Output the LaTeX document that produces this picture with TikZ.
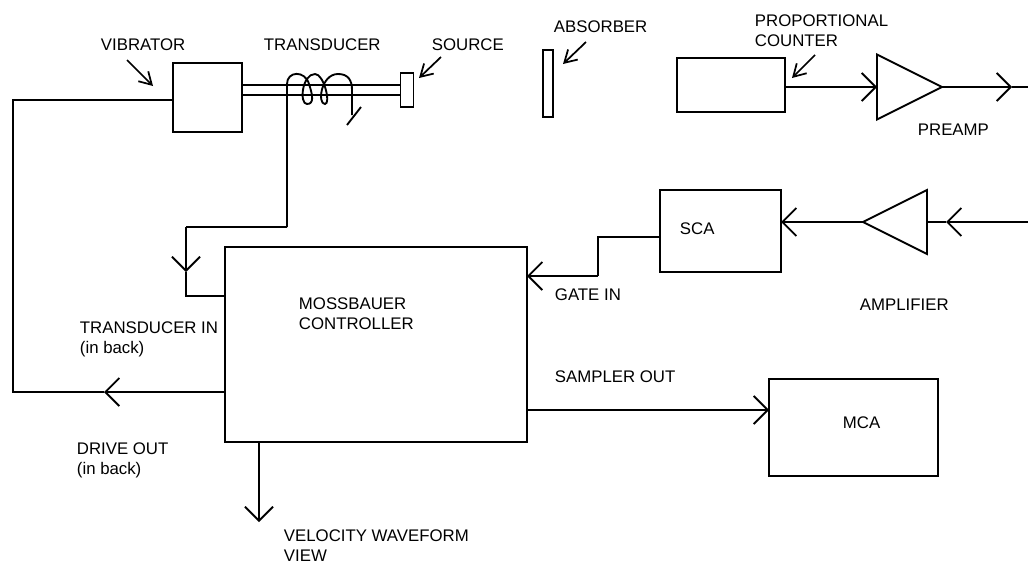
\documentclass[tikz,border=0pt]{standalone}
\usepackage{fontspec}
\setmainfont{Liberation Sans}
\usetikzlibrary{ % tikz packages
    arrows.meta,shapes.geometric
}
\newcommand{\pxu}{0.75pt}
\tikzset{
    unit/.style 2 args={draw,anchor=north west,inner sep=0pt,outer sep=0pt,
        minimum width=#1*\pxu,minimum height=#2*\pxu},
    amp/.style={draw,shape=isosceles triangle,isosceles triangle stretches,
        inner sep=0pt,outer sep=0pt,anchor=apex,
        minimum width=65*\pxu,minimum height=65*\pxu},
    label/.style={anchor=west,inner sep=0pt,align=left,font=\fontsize{12.6pt}{15pt}\selectfont},
    wire/.style={line width=1.4pt},
    signal/.style={wire,-{Straight Barb[length=10.5pt,width=21pt]}},
    pointer/.style={line width=1.3pt,-{Straight Barb[length=9pt,width=10.5pt]}}
}

\begin{document}
\begin{tikzpicture}[x=0.75pt,y=-0.75pt,line width=1.4pt]
        \useasboundingbox (0,0) rectangle (1028,565);

        % apparatus along the beam
        \node[unit={69}{69}] (vibrator) at (173,63) {};
        \node[unit={13}{34}] (source) at (400.5,73) {};
        \node[unit={10}{67}] (absorber) at (543,50) {};
        \node[unit={108}{54}] (counter) at (677,58) {};
        \node[amp] (preamp) at (942,87) {};

        % electronics
        \node[unit={302}{195}] (controller) at (225,247) {};
        \node[unit={121}{82}] (sca) at (660,190) {};
        \node[amp,shape border rotate=180,minimum width=64*\pxu,minimum height=64*\pxu] (amplifier) at (863,222) {};
        \node[unit={169}{97}] (mca) at (769,379) {};

        % levels and free ends
        \coordinate (rodTop) at (400,85);
        \coordinate (rodBottom) at (400,95);
        \coordinate (countLevel) at (800,87);
        \coordinate (preampTip) at (1012,87);
        \coordinate (preampEnd) at (1028,87);
        \coordinate (ampLevel) at (800,222);
        \coordinate (ampTip) at (946,222);
        \coordinate (ampEnd) at (1028,222);
        \coordinate (gateLevel) at (600,237);
        \coordinate (gateBend) at (598,276);
        \coordinate (samplerLevel) at (600,410);
        \coordinate (driveLevel) at (100,392);
        \coordinate (driveTip) at (104,392);
        \coordinate (driveCorner) at (13,392);
        \coordinate (driveTop) at (13,100);
        \coordinate (pickupTop) at (287,227);
        \coordinate (pickupCorner) at (186,227);
        \coordinate (pickupTip) at (186,272);
        \coordinate (pickupBottom) at (186,296);
        \coordinate (viewTip) at (259,522);
        \coordinate (coilStart) at (287,84);
        \coordinate (coilEnd) at (352,115);
        \coordinate (tickA) at (347,125);
        \coordinate (tickB) at (361,107);

        % rod and coil
        \draw[wire] (vibrator.east |- rodTop) -- (source.west |- rodTop);
        \draw[wire] (vibrator.east |- rodBottom) -- (source.west |- rodBottom);
        \draw[wire] (pickupTop) -- (coilStart)
            .. controls (287,71) and (305,70) .. (309,84)
            .. controls (313,96) and (314,104) .. (307,104)
            .. controls (299,104) and (302,74) .. (315,74)
            .. controls (324,74) and (331,104) .. (325,104)
            .. controls (317,104) and (321,74) .. (338,74)
            .. controls (348,74) and (352,80) .. (352,90)
            -- (coilEnd);
        \draw[wire] (tickA) -- (tickB);

        % signal path
        \draw[signal] (counter.east |- countLevel) -- (preamp.lower side |- countLevel);
        \draw[signal] (preamp.apex) -- (preampTip);
        \draw[wire] (preampTip) -- (preampEnd);
        \draw[signal] (ampEnd) -- (ampTip);
        \draw[wire] (ampTip) -- (amplifier.lower side |- ampLevel);
        \draw[signal] (amplifier.apex) -- (sca.east |- ampLevel);
        \draw[wire] (sca.west |- gateLevel) -| (gateBend);
        \draw[signal] (gateBend) -- (controller.east |- gateBend);
        \draw[signal] (controller.east |- samplerLevel) -- (mca.west |- samplerLevel);

        % drive and pickup
        \draw[signal] (controller.west |- driveLevel) -- (driveTip);
        \draw[wire] (driveTip) -- (driveCorner) -- (driveTop) -- (vibrator.west |- driveTop);
        \draw[wire] (pickupTop) -- (pickupCorner);
        \draw[signal] (pickupCorner) -- (pickupTip);
        \draw[wire] (pickupTip) -- (pickupBottom) -- (controller.west |- pickupBottom);
        \draw[signal] (controller.south west -| viewTip) -- (viewTip);

        % labels
        \node[label] (vibratorText) at (100,45) {VIBRATOR};
        \node[label] (transducerText) at (263,45) {TRANSDUCER};
        \node[label] (sourceText) at (431,45) {SOURCE};
        \node[label] (absorberText) at (553,27) {ABSORBER};
        \node[label] (counterText) at (754,31) {PROPORTIONAL\\COUNTER};
        \node[label] (preampText) at (917,130) {PREAMP};
        \node[label] (scaText) at (679,229) {SCA};
        \node[label] (gateText) at (554,295) {GATE IN};
        \node[label] (amplifierText) at (859,305) {AMPLIFIER};
        \node[label] (controllerText) at (298,314) {MOSSBAUER\\CONTROLLER};
        \node[label] (pickupText) at (79,339) {TRANSDUCER IN\\(in back)};
        \node[label] (driveText) at (76,460) {DRIVE OUT\\(in back)};
        \node[label] (samplerText) at (554,377) {SAMPLER OUT};
        \node[label] (mcaText) at (842,423) {MCA};
        \node[label] (viewText) at (283,546) {VELOCITY WAVEFORM\\VIEW};

        % pointers
        \coordinate (vibratorTail) at (127,60);
        \coordinate (vibratorTip) at (153,86);
        \coordinate (sourceTail) at (441,57);
        \coordinate (sourceTip) at (419,78);
        \coordinate (absorberTail) at (586,42);
        \coordinate (absorberTip) at (563,64);
        \coordinate (counterTail) at (815,55);
        \coordinate (counterTip) at (792,78);
        \draw[pointer] (vibratorTail) -- (vibratorTip);
        \draw[pointer] (sourceTail) -- (sourceTip);
        \draw[pointer] (absorberTail) -- (absorberTip);
        \draw[pointer] (counterTail) -- (counterTip);
    \end{tikzpicture}
\end{document}
